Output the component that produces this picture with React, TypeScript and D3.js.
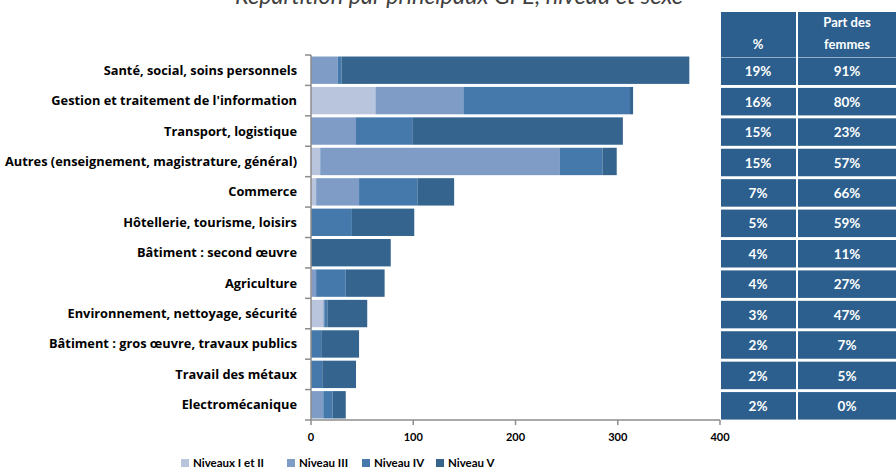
import * as d3 from 'd3';

const categories = [
  'Santé, social, soins personnels',
  "Gestion et traitement de l'information",
  'Transport, logistique',
  'Autres (enseignement, magistrature, général)',
  'Commerce',
  'Hôtellerie, tourisme, loisirs',
  'Bâtiment : second œuvre',
  'Agriculture',
  'Environnement, nettoyage, sécurité',
  'Bâtiment : gros œuvre, travaux publics',
  'Travail des métaux',
  'Electromécanique',
];

const niveaux12 = [0, 63, 0, 9, 5, 0, 0, 1, 12, 0, 0, 0];
const niveau3 = [26, 86, 44, 234, 42, 0, 0, 4, 1, 0, 0, 12];
const niveau4 = [4, 163, 55, 42, 57, 40, 0, 29, 3, 10, 11, 9];
const niveau5 = [340, 3, 206, 14, 36, 61, 78, 38, 39, 37, 33, 13];

const partTotal = ['19%', '16%', '15%', '15%', '7%', '5%', '4%', '4%', '3%', '2%', '2%', '2%'];
const partFemmes = ['91%', '80%', '23%', '57%', '66%', '59%', '11%', '27%', '47%', '7%', '5%', '0%'];

const seriesNames = ['Niveaux I et II', 'Niveau III', 'Niveau IV', 'Niveau V'];
const seriesColors = ['#b9c5dd', '#7f9cc6', '#4679ab', '#35658f'];
const xTicks = [0, 100, 200, 300, 400];

const W = 896;
const H = 472;
const FONT = 'Lato, "Open Sans", sans-serif';
const LABEL_FONT = '"Open Sans", Lato, sans-serif';

export default function App() {
  const x = d3.scaleLinear().domain([0, 400]).range([311, 720]);
  const y = d3.scaleBand<string>().domain(categories).range([55, 420]).paddingInner(0.1).paddingOuter(0.05);
  const step = y.step();

  const rows = categories.map((c, i) => ({
    cat: c,
    vals: [niveaux12[i], niveau3[i], niveau4[i], niveau5[i]],
  }));
  const stack = d3
    .stack<{ cat: string; vals: number[] }, number>()
    .keys([0, 1, 2, 3])
    .value((d, k) => d.vals[k]);
  const layers = stack(rows);

  const legendX = [181, 287, 362, 436];

  return (
    <svg width={W} height={H} style={{ position: 'absolute', left: 0, top: 0, fontFamily: FONT }}>
      <rect width={W} height={H} fill="#fff" />

      {/* title, cut off at top */}
      <text x={459} y={4} textAnchor="middle" fontSize={23.5} fontStyle="italic" fill="#404040">
        Répartition  par principaux  GFE, niveau et sexe
      </text>

      {/* bars */}
      {layers.map((layer, k) => (
        <g key={k} fill={seriesColors[k]}>
          {layer.map((d, i) =>
            d[1] - d[0] > 0 ? (
              <rect
                key={i}
                x={x(d[0])}
                y={y(categories[i])}
                width={x(d[1]) - x(d[0])}
                height={y.bandwidth()}
              />
            ) : null
          )}
        </g>
      ))}

      {/* y axis */}
      <line x1={311} x2={311} y1={55} y2={420} stroke="#8c8c8c" strokeWidth={1.5} />
      {d3.range(categories.length + 1).map((i) => (
        <line key={i} x1={305} x2={311} y1={55 + i * step} y2={55 + i * step} stroke="#8c8c8c" strokeWidth={1.5} />
      ))}
      {categories.map((c) => (
        <text
          key={c}
          x={297}
          y={(y(c) as number) + y.bandwidth() / 2}
          dy="0.35em"
          textAnchor="end"
          fontFamily={LABEL_FONT}
          fontSize={12.8}
          fontWeight="bold"
          fill="#000"
        >
          {c}
        </text>
      ))}

      {/* x axis */}
      <line x1={311} x2={720} y1={420} y2={420} stroke="#8c8c8c" strokeWidth={1.5} />
      {xTicks.map((t) => (
        <g key={t}>
          <line x1={x(t)} x2={x(t)} y1={420} y2={425} stroke="#8c8c8c" strokeWidth={1.5} />
          <text x={x(t)} y={441} textAnchor="middle" fontSize={11} fontWeight="bold" fill="#000">
            {t}
          </text>
        </g>
      ))}

      {/* table */}
      <g fill="#2c5f8e">
        <rect x={721} y={12} width={75} height={45} />
        <rect x={798} y={12} width={98} height={45} />
      </g>
      <text x={758} y={49} textAnchor="middle" fontSize={13} fontWeight="bold" fill="#fff">%</text>
      <text x={847} y={27} textAnchor="middle" fontSize={13} fontWeight="bold" fill="#fff">Part des</text>
      <text x={847} y={49} textAnchor="middle" fontSize={13} fontWeight="bold" fill="#fff">femmes</text>
      {categories.map((c, i) => {
        const top = 55 + i * step + 2.5;
        return (
          <g key={c}>
            <rect x={721} y={top} width={75} height={27.5} fill="#2c5f8e" />
            <rect x={798} y={top} width={98} height={27.5} fill="#2c5f8e" />
            <text x={758} y={top + 14} dy="0.36em" textAnchor="middle" fontSize={13.5} fontWeight="bold" fill="#fff">
              {partTotal[i]}
            </text>
            <text x={847} y={top + 14} dy="0.36em" textAnchor="middle" fontSize={13.5} fontWeight="bold" fill="#fff">
              {partFemmes[i]}
            </text>
          </g>
        );
      })}

      {/* legend */}
      {seriesNames.map((n, k) => (
        <g key={n}>
          <rect x={legendX[k]} y={459} width={8} height={8} fill={seriesColors[k]} />
          <text x={legendX[k] + 12} y={463} dy="0.36em" fontSize={11.5} fontWeight="bold" fill="#000">
            {n}
          </text>
        </g>
      ))}
    </svg>
  );
}
